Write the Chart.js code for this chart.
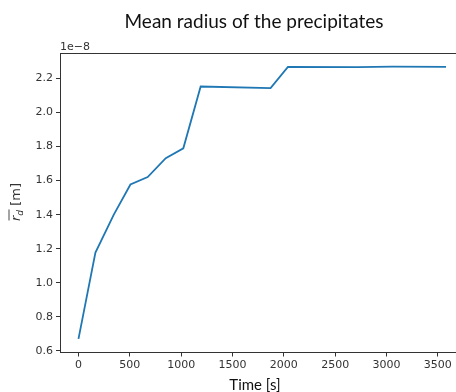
<!DOCTYPE html>
<html>
<head>
<meta charset="utf-8">
<script src="https://cdn.jsdelivr.net/npm/chart.js@4"></script>
<style>
  html, body { margin: 0; padding: 0; background: #fff; overflow: hidden; }
  canvas { display: block; }
</style>
</head>
<body>
<canvas id="radiusChart" width="456" height="392"></canvas>
<script>
// Mean precipitate radius over time (radius in units of 1e-8 m)
const times = [0, 165, 344, 506, 674, 850, 1021, 1190, 1871, 2040, 2720, 3060, 3580];
const radius = [0.67, 1.177, 1.40, 1.577, 1.621, 1.732, 1.79, 2.153, 2.144, 2.268, 2.267, 2.27, 2.268];
const xTicks = [0, 500, 1000, 1500, 2000, 2500, 3000, 3500];
const yTicks = [0.6, 0.8, 1.0, 1.2, 1.4, 1.6, 1.8, 2.0, 2.2];

const titleText = 'Mean radius of the precipitates';
const xLabel = 'Time [s]';
const offsetText = '1e\u22128';

// extra text / top spine drawn by hand, matplotlib-ish
const decorations = {
    id: 'decorations',
    afterDraw(chart) {
        const ctx = chart.ctx;
        const area = chart.chartArea;
        ctx.save();

        // top spine
        ctx.strokeStyle = '#333';
        ctx.lineWidth = 1;
        ctx.beginPath();
        ctx.moveTo(area.left, area.top + 0.5);
        ctx.lineTo(chart.width, area.top + 0.5);
        ctx.stroke();

        // title
        ctx.fillStyle = '#111';
        ctx.font = '19px Lato';
        ctx.textAlign = 'center';
        ctx.textBaseline = 'alphabetic';
        ctx.fillText(titleText, 254, 28);

        // x label
        ctx.font = '15px Lato';
        ctx.fillText(xLabel, 255, 390);

        // offset text
        ctx.fillStyle = '#333';
        ctx.font = '11px "DejaVu Sans"';
        ctx.textAlign = 'left';
        ctx.fillText(offsetText, 60, 50);

        // y label: r-bar with subscript d, then [m]
        ctx.translate(20, 202);
        ctx.rotate(-Math.PI / 2);
        ctx.fillStyle = '#333';
        ctx.font = 'italic 13px "DejaVu Sans"';
        const rW = ctx.measureText('r').width;
        ctx.font = 'italic 9px "DejaVu Sans"';
        const dW = ctx.measureText('d').width;
        ctx.font = '13px "DejaVu Sans"';
        const mW = ctx.measureText(' [m]').width;
        let x = -(rW + dW + mW) / 2;
        ctx.font = 'italic 13px "DejaVu Sans"';
        ctx.fillText('r', x, 0);
        ctx.lineWidth = 0.9;
        ctx.beginPath();
        ctx.moveTo(x + 0.5, -11);
        ctx.lineTo(x + rW + dW + 0.5, -11);
        ctx.stroke();
        x += rW;
        ctx.font = 'italic 9px "DejaVu Sans"';
        ctx.fillText('d', x, 3);
        x += dW;
        ctx.font = '13px "DejaVu Sans"';
        ctx.fillText(' [m]', x, 0);

        ctx.restore();
    }
};

const ctx = document.getElementById('radiusChart').getContext('2d');

new Chart(ctx, {
    type: 'line',
    data: {
        datasets: [{
            data: times.map((t, i) => ({ x: t, y: radius[i] })),
            borderColor: '#1f77b4',
            borderWidth: 1.8,
            pointRadius: 0,
            tension: 0,
            fill: false
        }]
    },
    options: {
        responsive: false,
        animation: false,
        layout: { padding: { top: 53, left: 0, right: 0, bottom: 0 } },
        plugins: {
            legend: { display: false },
            tooltip: { enabled: false },
            title: { display: false }
        },
        scales: {
            x: {
                type: 'linear',
                min: -180,
                max: 3677,
                afterFit: s => { s.height = 39.5; },
                afterBuildTicks: s => { s.ticks = xTicks.map(v => ({ value: v })); },
                ticks: {
                    callback: v => String(v),
                    color: '#333',
                    font: { family: 'DejaVu Sans', size: 11 },
                    padding: 2,
                    maxRotation: 0
                },
                grid: { display: true, drawOnChartArea: false, drawTicks: true, tickLength: 4, color: '#333' },
                border: { display: true, color: '#333', width: 1 }
            },
            y: {
                min: 0.59,
                max: 2.35,
                afterFit: s => { s.width = 60; },
                afterBuildTicks: s => { s.ticks = yTicks.map(v => ({ value: v })); },
                ticks: {
                    callback: v => v.toFixed(1),
                    color: '#333',
                    font: { family: 'DejaVu Sans', size: 11 },
                    padding: 3
                },
                grid: { display: true, drawOnChartArea: false, drawTicks: true, tickLength: 4, color: '#333' },
                border: { display: true, color: '#333', width: 1 }
            }
        }
    },
    plugins: [decorations]
});
</script>
</body>
</html>
